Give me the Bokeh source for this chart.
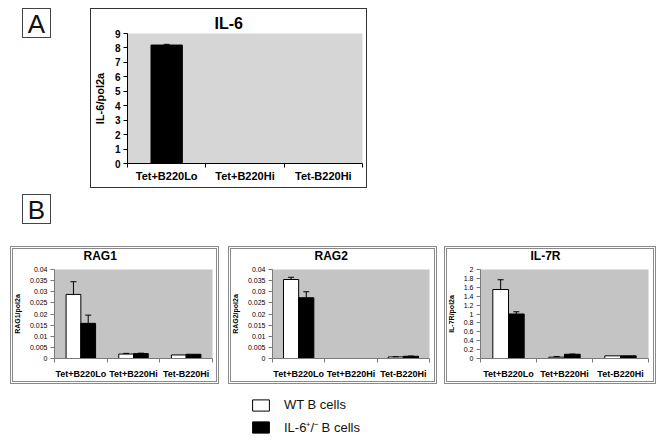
from bokeh.plotting import figure
from bokeh.models import (Range1d, FixedTicker, NumeralTickFormatter, Whisker, TeeHead,
                          ColumnDataSource, Spacer, Div, Legend, LegendItem, Title)
from bokeh.layouts import column, row
from bokeh.embed import file_html
from bokeh.resources import INLINE

# ---------------- data ----------------
categories = ["Tet+B220Lo", "Tet+B220Hi", "Tet-B220Hi"]
series_names = ["WT B cells", "IL-6\u207a/\u207b B cells"]

il6_ko = [8.2, 0.0, 0.0]
il6_ko_err = [0.05, 0.0, 0.0]
il6_ticks = [0, 1, 2, 3, 4, 5, 6, 7, 8, 9]

rag1_wt = [0.0288, 0.0020, 0.0016]
rag1_wt_err = [0.0057, 0.0003, 0.0]
rag1_ko = [0.0158, 0.0022, 0.0019]
rag1_ko_err = [0.0037, 0.0002, 0.0]

rag2_wt = [0.0355, 0.0, 0.0007]
rag2_wt_err = [0.0010, 0.0, 0.0001]
rag2_ko = [0.0273, 0.0, 0.0010]
rag2_ko_err = [0.0027, 0.0, 0.0001]
rag_ticks = [0, 0.005, 0.01, 0.015, 0.02, 0.025, 0.03, 0.035, 0.04]

il7r_wt = [1.55, 0.03, 0.06]
il7r_wt_err = [0.22, 0.015, 0.0]
il7r_ko = [1.0, 0.095, 0.06]
il7r_ko_err = [0.05, 0.005, 0.0]
il7r_ticks = [0, 0.2, 0.4, 0.6, 0.8, 1.0, 1.2, 1.4, 1.6, 1.8, 2.0]

legend_dummy_x = [-10.0]   # placeholder glyph positions, outside the visible range
legend_dummy_top = [-10.0]


def make_panel(title, ylabel, ticks, series, width, height, borders, font, gray,
               axis_color, title_size, tick_size, cat_size, ylab_size, tick_bold,
               title_offset, box_style, fmt, ylab_standoff, cat_standoff,
               title_standoff, gap_standoff):
    left, right, top, bottom = borders
    n = len(categories)
    p = figure(width=width, height=height, output_backend="svg", toolbar_location=None,
               x_range=Range1d(0, n), y_range=Range1d(ticks[0], ticks[-1]),
               min_border_left=left, min_border_right=right,
               min_border_top=top, min_border_bottom=bottom,
               title=title, styles=box_style)
    p.background_fill_color = gray
    p.border_fill_color = None
    p.outline_line_color = None
    p.xgrid.visible = False
    p.ygrid.visible = False

    p.title.text_font = font
    p.title.text_font_size = title_size
    p.title.text_font_style = "bold"
    p.title.text_color = "black"
    p.title.align = "left"
    p.title.offset = title_offset
    p.title.standoff = title_standoff
    if gap_standoff is not None:
        # thin empty band between the title and the plot area
        p.add_layout(Title(text=" ", text_font_size="1px", standoff=gap_standoff), "above")

    centers = [i + 0.5 for i in range(n)]
    for vals, errs, color, off, bw in series:
        xs = [c + off for c in centers]
        p.vbar(x=xs, top=vals, width=bw, fill_color=color, line_color="black", line_width=1)
        keep = [i for i in range(n) if errs[i] > 0]
        src = ColumnDataSource(dict(x=[xs[i] for i in keep],
                                    lower=[vals[i] for i in keep],
                                    upper=[vals[i] + errs[i] for i in keep]))
        w = Whisker(base="x", lower="lower", upper="upper", source=src,
                    line_color="black", line_width=1,
                    upper_head=TeeHead(size=6, line_color="black", line_width=1),
                    lower_head=None, level="annotation")
        p.add_layout(w)

    xa = p.xaxis[0]
    xa.ticker = FixedTicker(ticks=centers, minor_ticks=list(range(n + 1)))
    xa.major_label_overrides = {c: cat for c, cat in zip(centers, categories)}
    xa.major_tick_line_color = None
    xa.major_tick_out = 0
    xa.major_tick_in = 0
    xa.minor_tick_out = 4
    xa.minor_tick_in = 0
    xa.minor_tick_line_color = axis_color
    xa.axis_line_color = axis_color
    xa.major_label_text_font = font
    xa.major_label_text_font_size = cat_size
    xa.major_label_text_font_style = "bold"
    xa.major_label_text_color = "black"
    xa.major_label_standoff = cat_standoff

    ya = p.yaxis[0]
    ya.ticker = FixedTicker(ticks=ticks)
    ya.formatter = NumeralTickFormatter(format=fmt)
    ya.axis_line_color = axis_color
    ya.major_tick_line_color = axis_color
    ya.major_tick_out = 4
    ya.major_tick_in = 0
    ya.minor_tick_line_color = None
    ya.major_label_text_font = font
    ya.major_label_text_font_size = tick_size
    ya.major_label_text_font_style = "bold" if tick_bold else "normal"
    ya.major_label_text_color = "black"
    ya.major_label_standoff = 3
    ya.axis_label = ylabel
    ya.axis_label_text_font = font
    ya.axis_label_text_font_size = ylab_size
    ya.axis_label_text_font_style = "bold"
    ya.axis_label_text_color = "black"
    ya.axis_label_standoff = ylab_standoff
    return p


box_a = {"outline": "1px solid #333333", "outline-offset": "-1px"}
box_b = {"outline": "3px double #8a8a8a", "outline-offset": "-3px"}

pa = make_panel("IL-6", "IL-6/pol2a", il6_ticks,
                [(il6_ko, il6_ko_err, "black", 0.0, 0.40)],
                277, 180, (37, 5, 25, 25), "Liberation Sans", "#d6d6d6", "black",
                "16px", "10px", "11px", "11px", True, 87, box_a, "0", 6, 2, 4, None)

common_b = dict(height=138, font="Liberation Sans", gray="#c4c4c4", axis_color="#7a7a7a",
                title_size="12px", tick_size="7px", cat_size="9px", ylab_size="7px",
                tick_bold=False, box_style=box_b, ylab_standoff=6, cat_standoff=6,
                title_standoff=0, gap_standoff=4)

p1 = make_panel("RAG1", "RAG1/pol2a", rag_ticks,
                [(rag1_wt, rag1_wt_err, "white", -0.14, 0.28),
                 (rag1_ko, rag1_ko_err, "black", 0.14, 0.28)],
                width=209, borders=(42, 7, 21, 26), title_offset=29, fmt="0.[000]",
                **common_b)
p2 = make_panel("RAG2", "RAG2/pol2a", rag_ticks,
                [(rag2_wt, rag2_wt_err, "white", -0.145, 0.29),
                 (rag2_ko, rag2_ko_err, "black", 0.145, 0.29)],
                width=209, borders=(42, 8, 21, 26), title_offset=42, fmt="0.[000]",
                **common_b)
p3 = make_panel("IL-7R", "IL-7R/pol2a", il7r_ticks,
                [(il7r_wt, il7r_wt_err, "white", -0.14, 0.28),
                 (il7r_ko, il7r_ko_err, "black", 0.14, 0.28)],
                width=212, borders=(36, 8, 21, 26), title_offset=50, fmt="0.[0]",
                **common_b)

# legend figure
pl = figure(width=170, height=40, output_backend="svg", toolbar_location=None,
            x_range=Range1d(0, 1), y_range=Range1d(0, 1), min_border=0)
pl.axis.visible = False
pl.xgrid.visible = False
pl.ygrid.visible = False
pl.outline_line_color = None
r_wt = pl.vbar(x=legend_dummy_x, top=legend_dummy_top, width=0.1,
               fill_color="white", line_color="black")
r_ko = pl.vbar(x=legend_dummy_x, top=legend_dummy_top, width=0.1,
               fill_color="black", line_color="black")
leg = Legend(items=[LegendItem(label=series_names[0], renderers=[r_wt]),
                    LegendItem(label=series_names[1], renderers=[r_ko])],
             location="top_left", orientation="vertical",
             glyph_width=21, glyph_height=14, label_height=14, spacing=6,
             label_standoff=13, padding=2, margin=0,
             border_line_color=None, background_fill_alpha=0,
             label_text_font="Liberation Sans", label_text_font_size="13px",
             label_text_color="#111111")
pl.add_layout(leg, "center")


def label_box(letter):
    return Div(text=('<div style="width:29px;height:30px;border:1px solid #444;'
                     'font-family:\'Liberation Sans\';font-size:26px;line-height:30px;'
                     'text-align:center;color:#111;background:white">%s</div>' % letter),
               width=31, height=32, styles={"margin": "0", "padding": "0"})


row1 = row(Spacer(width=22, height=10), label_box("A"), Spacer(width=37, height=10), pa)
row2 = row(Spacer(width=22, height=10), label_box("B"))
row3 = row(Spacer(width=10, height=10), p1, Spacer(width=9, height=10), p2,
           Spacer(width=7, height=10), p3)
row4 = row(Spacer(width=250, height=10), pl)
layout = column(Spacer(width=10, height=8), row1, Spacer(width=10, height=6), row2,
                Spacer(width=10, height=20), row3, Spacer(width=10, height=13), row4)

open("out.html", "w").write(file_html(layout, INLINE))
